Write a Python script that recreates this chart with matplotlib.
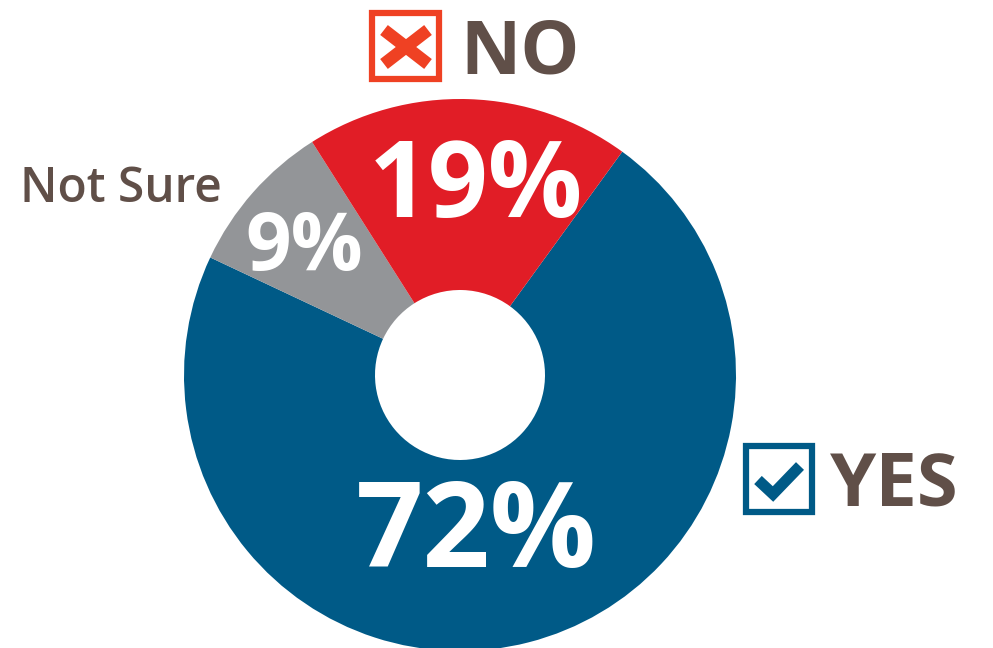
import matplotlib
matplotlib.use("Agg")
import matplotlib.pyplot as plt
from matplotlib.patches import Rectangle

# Svar fordelt i procent (med uret fra "YES")
labels = ["YES", "Not Sure", "NO"]
values = [72, 9, 19]
colors = ["#005a87", "#939598", "#e11d26"]

W, H = 993, 648
BROWN = "#604f48"
FONT = "Open Sans"

fig = plt.figure(figsize=(W / 100, H / 100), dpi=100)
ax = fig.add_axes([0, 0, 1, 1])
ax.set_xlim(0, W)
ax.set_ylim(0, H)
ax.set_aspect("equal")
ax.axis("off")


def py(y):
    # pixel-y fra toppen -> data-y fra bunden
    return H - y


# donut
cx, cy, r_out, r_in = 460, py(375), 276, 85
ax.pie(values, colors=colors, startangle=54, counterclock=False,
       center=(cx, cy), radius=r_out,
       wedgeprops=dict(width=r_out - r_in, linewidth=0))
ax.set_xlim(0, W)
ax.set_ylim(0, H)

# procenttal i hvid
pct_pos = [(476, 567, 85), (304, 270, 57.5), (476, 217, 75.5)]
for v, (x, y, fs) in zip(values, pct_pos):
    ax.text(x, py(y), f"{v}%", ha="center", va="baseline", color="white",
            fontsize=fs, fontweight="bold", family=FONT)

# NO med kryds i boks
ax.add_patch(Rectangle((372, py(79)), 67, 66, fill=False, edgecolor="#ef4123", linewidth=4.5))
ax.plot([384, 428], [py(30), py(64)], color="#ef4123", lw=9, solid_capstyle="butt")
ax.plot([384, 428], [py(64), py(30)], color="#ef4123", lw=9, solid_capstyle="butt")
ax.text(460, py(73), labels[2], ha="left", va="baseline", color=BROWN,
        fontsize=53.5, fontweight="bold", family=FONT)

# YES med flueben i boks
ax.add_patch(Rectangle((746, py(512)), 66, 66, fill=False, edgecolor="#005a87", linewidth=4.5))
ax.plot([758, 773, 800], [py(480), py(494), py(466)], color="#005a87", lw=8,
        solid_joinstyle="miter", solid_capstyle="butt")
ax.text(830, py(505), labels[0], ha="left", va="baseline", color=BROWN,
        fontsize=53.5, fontweight="bold", family=FONT)

# Not Sure
ax.text(20, py(202), labels[1], ha="left", va="baseline", color=BROWN,
        fontsize=34.5, fontweight="semibold", family=FONT)

fig.savefig("out.png", dpi=100, facecolor="white")
